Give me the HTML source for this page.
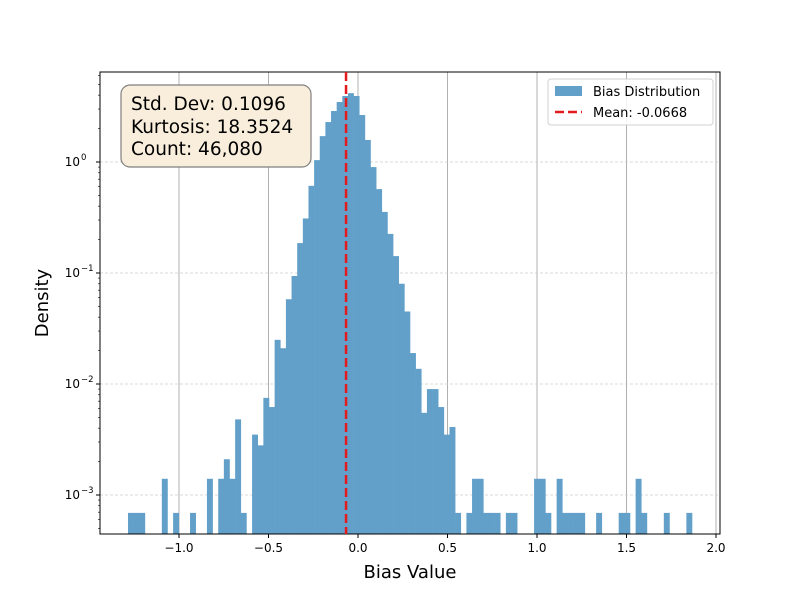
<!DOCTYPE html>
<html><head><meta charset="utf-8"><style>
body{margin:0;background:#fff;width:800px;height:600px;overflow:hidden}
svg{font-family:"DejaVu Sans","Liberation Sans",sans-serif}
</style></head><body>
<svg id="chart" width="800" height="600" viewBox="0 0 800 600">
<g id="grid"></g><g id="bars"></g><g id="axes"></g><g id="overlay"></g>
</svg>
<script>
const binStart = -1.285;
const binEnd = 1.866;
const densities = [
0.00069,0.00069,0.00069,0,0,0,0.0014,0,0.00069,0,
0,0.00069,0,0,0.0014,0,0.0014,0.0021,0.0014,0.0048,
0.00069,0,0.0035,0.0028,0.0075,0.0062,0.025,0.021,0.058,0.094,
0.186,0.31,0.61,1.04,1.71,2.29,2.88,3.47,3.93,4.17,
3.93,2.65,1.58,0.90,0.57,0.355,0.225,0.142,0.080,0.045,
0.019,0.0137,0.0055,0.009,0.009,0.0062,0.0035,0.0041,0.00069,0,
0.00069,0.0014,0.0014,0.00069,0.00069,0.00069,0,0.00069,0.00069,0,
0,0,0.0014,0.0014,0.00069,0,0.0014,0.00069,0.00069,0.00069,
0.00069,0,0,0.00069,0,0,0,0.00069,0.00069,0,
0.0014,0.00069,0,0,0,0.00069,0,0,0,0.00069];
const xTicks = [-1.0,-0.5,0.0,0.5,1.0,1.5,2.0];
const xTickLabels = ["\u22121.0","\u22120.5","0.0","0.5","1.0","1.5","2.0"];
const yDecades = [-3,-2,-1,0];
const meanValue = -0.0668;

const NS="http://www.w3.org/2000/svg";
const L=100,R=720,T=72,B=534;
function xs(v){return 358+v*179;}
function ys(d){return 162-Math.log10(d)*111;}
function mk(parent,tag,attrs,text){const e=document.createElementNS(NS,tag);for(const k in attrs)e.setAttribute(k,attrs[k]);if(text!==undefined)e.textContent=text;document.getElementById(parent).appendChild(e);return e;}

// grid
xTicks.forEach((t)=>{const x=xs(t);if(x<L||x>R)return;
 const g=mk('grid','line',{x1:x,x2:x,y1:T,y2:B,stroke:'#b0b0b0','stroke-width':1});
 
 });
yDecades.forEach(d=>{const y=ys(Math.pow(10,d));
 const g=mk('grid','line',{x1:L,x2:R,y1:y,y2:y,stroke:'#cccccc','stroke-width':0.8,'stroke-dasharray':'3,2'});
 
 });

// bars
const bw=(binEnd-binStart)/densities.length;
densities.forEach((d,i)=>{if(d<=0)return;
 const x0=xs(binStart+i*bw),x1=xs(binStart+(i+1)*bw),y=ys(d);
 const r=mk('bars','rect',{x:x0,y:y,width:x1-x0+0.3,height:B-y,fill:'#62a0ca'});
 
 });

// mean line
const mx=xs(meanValue);
const ml=mk('overlay','line',{x1:mx,x2:mx,y1:T,y2:B,stroke:'#e41a1c',"stroke-width":2.5,'stroke-dasharray':'9,4'});



// axes frame
const fr=mk('axes','rect',{x:L,y:T,width:R-L,height:B-T,fill:'none',stroke:'#000','stroke-width':1});


xTicks.forEach((t,i)=>{const x=xs(t);
 mk('axes','line',{x1:x,x2:x,y1:B,y2:B+4,stroke:'#000'});
 const tx=mk('axes','text',{x:x,y:B+18,'font-size':12,'text-anchor':'middle'},xTickLabels[i]);
 
 });
yDecades.forEach(d=>{const y=ys(Math.pow(10,d));
 mk('axes','line',{x1:L-4,x2:L,y1:y,y2:y,stroke:'#000'});
 const tx=mk('axes','text',{x:L-20,y:y+4,'font-size':12,'text-anchor':'end'},'10');
 
 
 mk('axes','text',{x:L-19,y:y-2,'font-size':8.5},d===0?'0':'\u2212'+(-d));
 for(let m=2;m<10;m++){const yy=ys(m*Math.pow(10,d));if(yy<T||yy>B)continue;mk('axes','line',{x1:L-2,x2:L,y1:yy,y2:yy,stroke:'#000','stroke-width':0.6});}
});
for(let m=4;m<10;m++){const yy=ys(m*1e-4);if(yy>=T&&yy<=B)mk('axes','line',{x1:L-2,x2:L,y1:yy,y2:yy,stroke:'#000','stroke-width':0.6});}
const xl=mk('axes','text',{x:410,y:578,'font-size':18,'text-anchor':'middle'},'Bias Value');


const yl=mk('axes','text',{x:48,y:303,'font-size':18,'text-anchor':'middle',transform:'rotate(-90 48 303)'},'Density');


</script>
<svg style="position:absolute;left:0;top:0" width="800" height="600">
<g>
<rect x="121" y="85" width="190" height="82" rx="9" fill="#f9eedb" stroke="#7f7f7f" stroke-width="1.2"/>
<text x="131" y="110" font-size="18.5" font-family="DejaVu Sans,Liberation Sans,sans-serif">Std. Dev: 0.1096</text>
<text x="131" y="133" font-size="18.5" font-family="DejaVu Sans,Liberation Sans,sans-serif">Kurtosis: 18.3524</text>
<text x="131" y="155" font-size="18.5" font-family="DejaVu Sans,Liberation Sans,sans-serif">Count: 46,080</text>
</g>
<g>
<rect x="548" y="79" width="165" height="46" rx="3" fill="#fff" fill-opacity="0.85" stroke="#d0d0d0"/>
<rect x="555" y="86" width="27" height="10" fill="#62a0ca"/>
<text x="593" y="96" font-size="13" font-family="DejaVu Sans,Liberation Sans,sans-serif">Bias Distribution</text>
<line x1="555" x2="582" y1="112" y2="112" stroke="#e41a1c" stroke-width="2.5" stroke-dasharray="9,4"/>
<text x="593" y="117" font-size="13" font-family="DejaVu Sans,Liberation Sans,sans-serif">Mean: -0.0668</text>
</g>
</svg>
</body></html>
